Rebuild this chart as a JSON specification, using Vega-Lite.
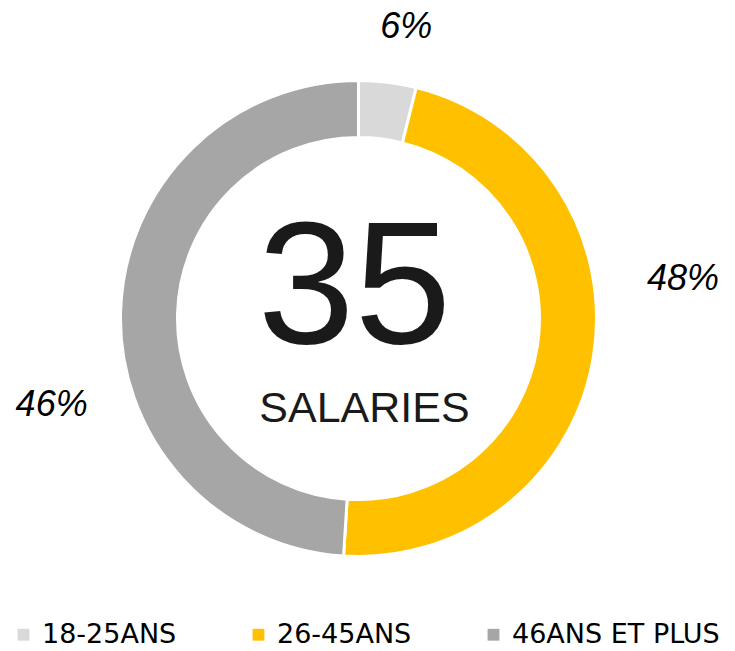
{
  "$schema": "https://vega.github.io/schema/vega-lite/v6.json",
  "width": 717,
  "height": 637,
  "autosize": {"type": "none"},
  "padding": {"left": 0, "top": 0, "right": 18, "bottom": 14},
  "background": "white",
  "config": {"view": {"stroke": null}, "font": "Liberation Sans"},
  "layer": [
    {
      "data": {"values": [
        {"age": "18-25ANS", "share": 3.9, "label": "6%"},
        {"age": "26-45ANS", "share": 47.1, "label": "48%"},
        {"age": "46ANS ET PLUS", "share": 49.0, "label": "46%"}
      ]},
      "layer": [
        {
          "mark": {"type": "arc", "radius": 238, "radius2": 181, "stroke": "white", "strokeWidth": 3},
          "encoding": {
            "theta": {"field": "share", "type": "quantitative", "stack": true},
            "order": {"field": "age", "type": "ordinal", "sort": "ascending"},
            "color": {
              "field": "age", "type": "nominal",
              "scale": {"domain": ["18-25ANS", "26-45ANS", "46ANS ET PLUS"], "range": ["#d9d9d9", "#ffc000", "#a6a6a6"]},
              "legend": {
                "title": null, "orient": "none", "legendX": 10, "legendY": 621,
                "direction": "horizontal", "columns": 3, "columnPadding": 68,
                "symbolType": "square", "symbolSize": 140, "symbolStrokeWidth": 0,
                "labelFont": "DejaVu Sans", "labelFontSize": 27, "labelColor": "#000000",
                "labelLimit": 400, "labelOffset": 5
              }
            }
          }
        },
        {
          "mark": {
            "type": "text", "radius": 300, "fontSize": 36, "fontStyle": "italic",
            "font": "Liberation Sans", "color": "#000000", "align": "center", "baseline": "middle",
            "dx": {"expr": "datum.age === '18-25ANS' ? 11 : datum.age === '26-45ANS' ? 28 : -7"},
            "dy": {"expr": "datum.age === '18-25ANS' ? 6 : datum.age === '26-45ANS' ? -85 : 96"}
          },
          "encoding": {
            "theta": {"field": "share", "type": "quantitative", "stack": true},
            "order": {"field": "age", "type": "ordinal", "sort": "ascending"},
            "text": {"field": "label", "type": "nominal"}
          }
        }
      ]
    },
    {
      "data": {"values": [{"t": "35"}]},
      "mark": {"type": "text", "fontSize": 174, "font": "Liberation Sans", "color": "#1a1a1a", "align": "center", "baseline": "middle", "dy": -28, "dx": -4},
      "encoding": {"text": {"field": "t", "type": "nominal"}}
    },
    {
      "data": {"values": [{"t": "SALARIES"}]},
      "mark": {"type": "text", "fontSize": 43, "font": "Liberation Sans", "color": "#1a1a1a", "align": "center", "baseline": "middle", "dy": 90, "dx": 6},
      "encoding": {"text": {"field": "t", "type": "nominal"}}
    }
  ]
}
